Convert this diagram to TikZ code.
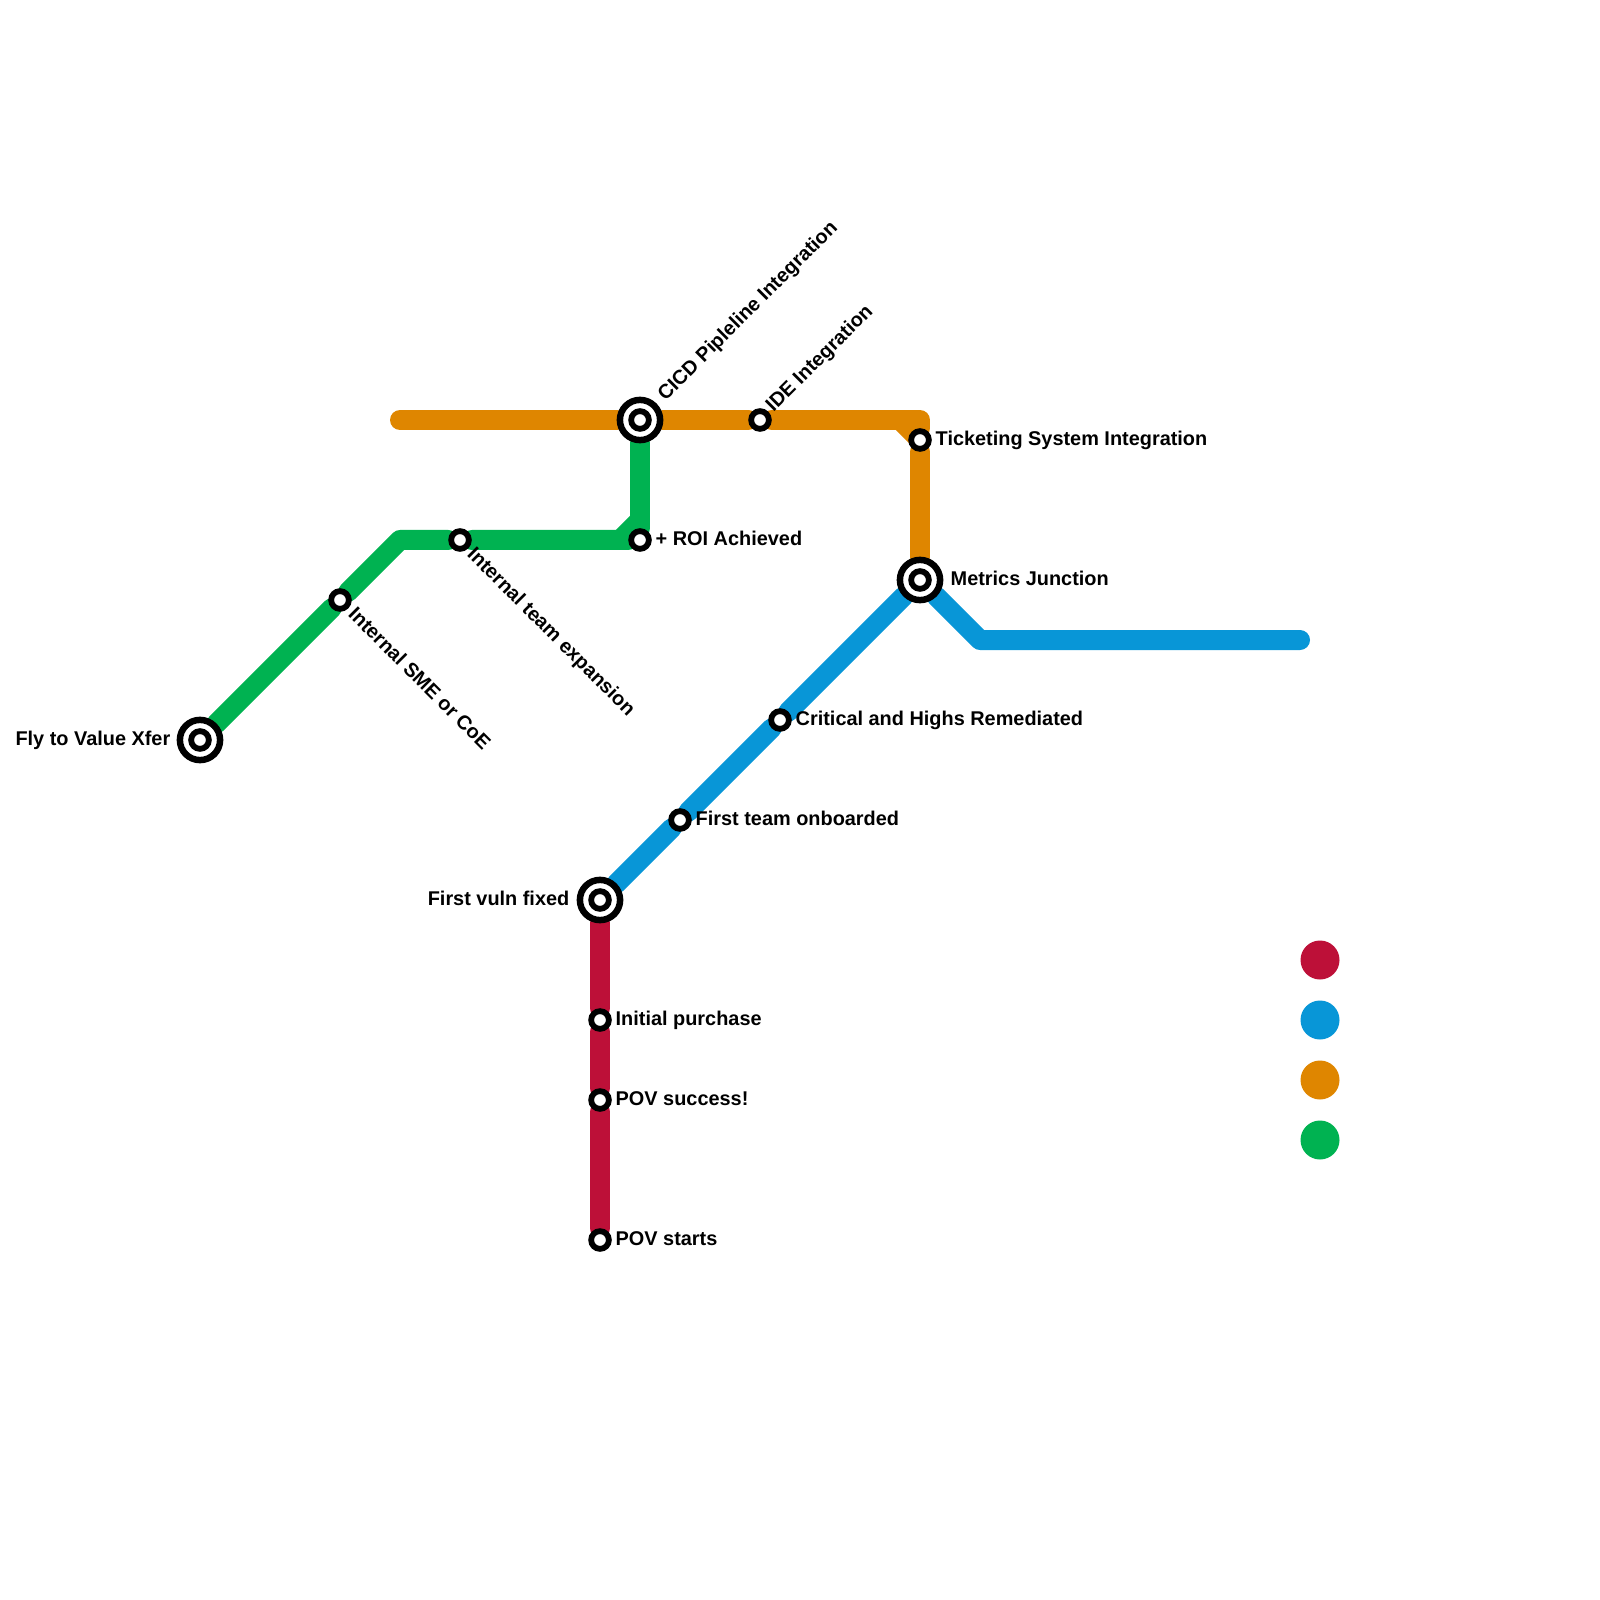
\documentclass[tikz,border=0pt]{standalone}
\usepackage{fontspec}
\setmainfont{Liberation Sans}
\usetikzlibrary{backgrounds}
\definecolor{linered}{HTML}{BD1038}
\definecolor{lineblue}{HTML}{0896D7}
\definecolor{lineorange}{HTML}{DF8600}
\definecolor{linegreen}{HTML}{00B251}
\begin{document}
\begin{tikzpicture}[x=1cm, y=-1cm,
  font=\fontsize{5.66}{6.5}\selectfont\bfseries,
  stn/.style={circle, draw=black, line width=0.58mm, fill=white, inner sep=0pt, minimum size=1.77mm},
  hub/.style={circle, draw=black, line width=0.65mm, fill=white, inner sep=0pt, minimum size=4.02mm},
  metro/.style={line width=2mm, line cap=round, line join=round},
  stnlabel/.style={inner sep=0pt, text height=1.45mm, text depth=0mm},
  legenddot/.style={circle, inner sep=0pt, minimum size=3.9mm}]
  \useasboundingbox (0,0) rectangle (16,16);
  % stations
  \node[stn] (povstart) at (6,12.4) {};
  \node[stn] (povwin) at (6,11) {};
  \node[stn] (purchase) at (6,10.2) {};
  \node[hub] (firstfix) at (6,9) {};
  \node[stn] (firstfixc) at (6,9) {};
  \node[stn] (onboard) at (6.8,8.2) {};
  \node[stn] (critical) at (7.8,7.2) {};
  \node[hub] (metrics) at (9.2,5.8) {};
  \node[stn] (metricsc) at (9.2,5.8) {};
  \node[stn] (ticket) at (9.2,4.4) {};
  \node[stn] (ide) at (7.6,4.2) {};
  \node[hub] (cicd) at (6.4,4.2) {};
  \node[stn] (cicdc) at (6.4,4.2) {};
  \node[stn] (roi) at (6.4,5.4) {};
  \node[stn] (team) at (4.6,5.4) {};
  \node[stn] (sme) at (3.4,6) {};
  \node[hub] (flyvalue) at (2,7.4) {};
  \node[stn] (flyvaluec) at (2,7.4) {};
  % bends and line ends
  \coordinate (bluebend) at (9.8,6.4);
  \coordinate (blueend) at (13,6.4);
  \coordinate (orangeend) at (4,4.2);
  \coordinate (orangebend) at (9.2,4.2);
  \coordinate (orangecut) at (9,4.2);
  \coordinate (orangecutb) at (9.2,4.4);
  \coordinate (greenbend) at (4,5.4);
  \coordinate (greencut) at (6.4,5.2);
  \coordinate (greencutb) at (6.2,5.4);
  % lines
  \begin{scope}[on background layer]
    \draw[metro, lineorange] (orangeend) -- (cicd) -- (ide) -- (orangebend) -- (ticket) -- (metrics);
    \draw[metro, lineorange, line cap=butt] (orangecut) -- (orangecutb);
    \draw[metro, linegreen] (flyvalue) -- (sme) -- (greenbend) -- (team) -- (roi);
    \draw[metro, linegreen] (cicd) -- (greencut) -- (roi);
    \draw[metro, linegreen, line cap=butt] (greencut) -- (greencutb);
    \draw[metro, lineblue] (firstfix) -- (onboard) -- (critical) -- (metrics) -- (bluebend) -- (blueend);
    \draw[metro, linered] (firstfix) -- (purchase) -- (povwin) -- (povstart);
  \end{scope}
  % labels
  \node[stnlabel, anchor=west] (lpovstart) at (6.15,12.38) {POV starts};
  \node[stnlabel, anchor=west] (lpovwin) at (6.15,10.98) {POV success!};
  \node[stnlabel, anchor=west] (lpurchase) at (6.15,10.18) {Initial purchase};
  \node[stnlabel, anchor=east] (lfirstfix) at (5.7,8.98) {First vuln fixed};
  \node[stnlabel, anchor=west] (lonboard) at (6.95,8.18) {First team onboarded};
  \node[stnlabel, anchor=west] (lcritical) at (7.95,7.18) {Critical and Highs Remediated};
  \node[stnlabel, anchor=west] (lmetrics) at (9.5,5.78) {Metrics Junction};
  \node[stnlabel, anchor=west] (lticket) at (9.35,4.38) {Ticketing System Integration};
  \node[stnlabel, anchor=west] (lroi) at (6.55,5.38) {+ ROI Achieved};
  \node[stnlabel, anchor=east] (lflyvalue) at (1.71,7.38) {Fly to Value Xfer};
  \node[stnlabel, anchor=west, rotate=45] (lcicd) at (6.6,3.97) {CICD Pipleline Integration};
  \node[stnlabel, anchor=west, rotate=45] (lide) at (7.68,4.08) {IDE Integration};
  \node[stnlabel, anchor=west, rotate=-45] (lsme) at (3.52,6.1) {Internal SME or CoE};
  \node[stnlabel, anchor=west, rotate=-45] (lteam) at (4.71,5.5) {Internal team expansion};
  % legend
  \node[legenddot, fill=linered] (keyred) at (13.2,9.6) {};
  \node[legenddot, fill=lineblue] (keyblue) at (13.2,10.2) {};
  \node[legenddot, fill=lineorange] (keyorange) at (13.2,10.8) {};
  \node[legenddot, fill=linegreen] (keygreen) at (13.2,11.4) {};
\end{tikzpicture}
\end{document}
